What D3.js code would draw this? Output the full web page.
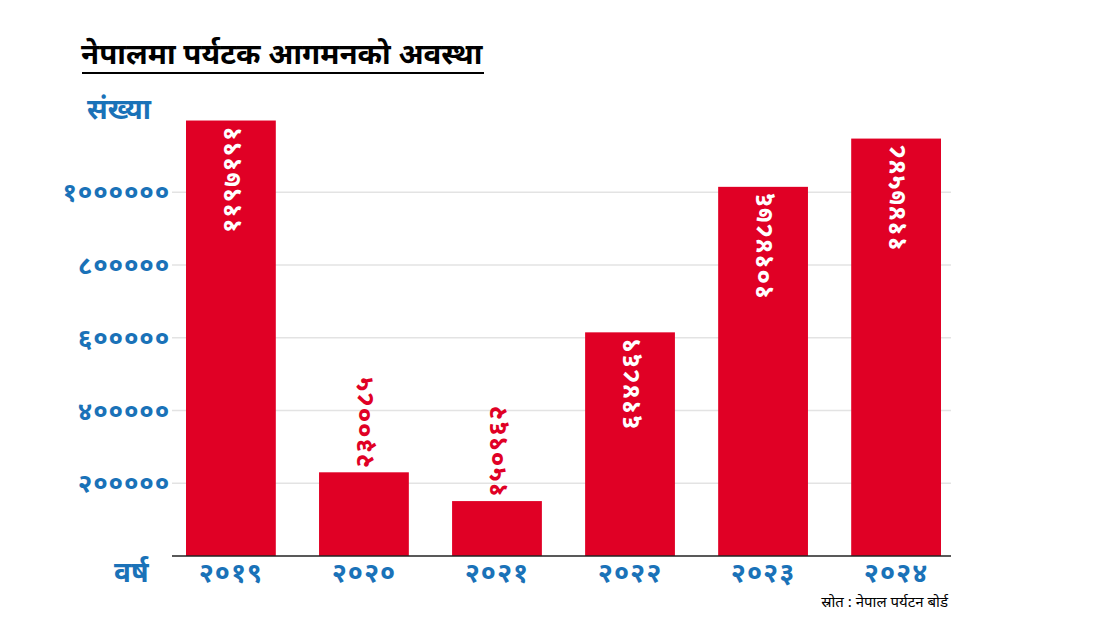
<!DOCTYPE html>
<html>
<head>
<meta charset="utf-8">
<script src="https://cdn.jsdelivr.net/npm/d3@7"></script>
<style>
  body { margin: 0; background: #fff; }
  text { font-family: "Noto Sans", sans-serif; }
</style>
</head>
<body>
<div id="chart"></div>
<script>
// data
var years = ["2019", "2020", "2021", "2022", "2023", "2024"];
var arrivals = [1197191, 230085, 150962, 614869, 1014876, 1147548];
var yTicks = [200000, 400000, 600000, 800000, 1000000];

var title = "नेपालमा पर्यटक आगमनको अवस्था";
var yTitle = "संख्या";
var xTitle = "वर्ष";
var source = "स्रोत : नेपाल पर्यटन बोर्ड";

var width = 1104,
    height = 630;
var blue = "#1a72b8",
    red = "#e00025";

var devDigits = "०१२३४५६७८९";
function toNepali(s) {
  return String(s).replace(/[0-9]/g, function(c) { return devDigits[+c]; });
}

var svg = d3.select("#chart").append("svg")
    .attr("width", width)
    .attr("height", height);

var x = d3.scaleBand()
    .domain(years)
    .range([186, 941])
    .paddingInner(0.325)
    .paddingOuter(0);

var y = d3.scaleLinear()
    .domain([0, 200000])
    .range([556, 483.25]);

// title
svg.append("text")
    .attr("x", 81)
    .attr("y", 64)
    .attr("font-size", 29.5)
    .attr("font-weight", "bold")
    .attr("fill", "#000")
    .text(title);
svg.append("line")
    .attr("x1", 82).attr("x2", 484)
    .attr("y1", 73).attr("y2", 73)
    .attr("stroke", "#000")
    .attr("stroke-width", 2);

// gridlines
svg.append("g").selectAll("line")
    .data(yTicks)
  .enter().append("line")
    .attr("x1", 172).attr("x2", 951)
    .attr("y1", function(d) { return y(d); })
    .attr("y2", function(d) { return y(d); })
    .attr("stroke", "#e3e3e3")
    .attr("stroke-width", 1.5);

// y tick labels
svg.append("g").selectAll("text")
    .data(yTicks)
  .enter().append("text")
    .attr("x", 170)
    .attr("y", function(d) { return y(d); })
    .attr("dy", "0.35em")
    .attr("text-anchor", "end")
    .attr("font-size", 26)
    .attr("letter-spacing", 0.8)
    .attr("font-weight", "bold")
    .attr("fill", blue)
    .text(function(d) { return toNepali(d); });

svg.append("text")
    .attr("x", 87)
    .attr("y", 119)
    .attr("font-size", 28)
    .attr("font-weight", "bold")
    .attr("fill", blue)
    .text(yTitle);

// bars
svg.append("g").selectAll("rect")
    .data(arrivals)
  .enter().append("rect")
    .attr("x", function(d, i) { return x(years[i]); })
    .attr("y", function(d) { return y(d); })
    .attr("width", x.bandwidth())
    .attr("height", function(d) { return y(0) - y(d); })
    .attr("fill", red);

// value labels (inside for tall bars, above for short ones)
svg.append("g").selectAll("text")
    .data(arrivals)
  .enter().append("text")
    .attr("transform", function(d, i) {
      var inside = y(0) - y(d) > 150;
      var ty = inside ? y(d) + 5 : y(d) - 4;
      return "translate(" + (x(years[i]) + x.bandwidth() / 2) + "," + ty + ") rotate(-90)";
    })
    .attr("dy", "0.35em")
    .attr("text-anchor", function(d) { return y(0) - y(d) > 150 ? "end" : "start"; })
    .attr("font-size", 26)
    .attr("letter-spacing", 0.8)
    .attr("font-weight", "bold")
    .attr("fill", function(d) { return y(0) - y(d) > 150 ? "#fff" : red; })
    .text(function(d) { return toNepali(d); });

// baseline
svg.append("line")
    .attr("x1", 172).attr("x2", 951)
    .attr("y1", y(0)).attr("y2", y(0))
    .attr("stroke", "#222")
    .attr("stroke-width", 1.5);

// x labels
svg.append("g").selectAll("text")
    .data(years)
  .enter().append("text")
    .attr("x", function(d) { return x(d) + x.bandwidth() / 2; })
    .attr("y", 582)
    .attr("text-anchor", "middle")
    .attr("font-size", 27)
    .attr("letter-spacing", 1)
    .attr("font-weight", "bold")
    .attr("fill", blue)
    .text(function(d) { return toNepali(d); });

svg.append("text")
    .attr("x", 114)
    .attr("y", 582)
    .attr("font-size", 28)
    .attr("font-weight", "bold")
    .attr("fill", blue)
    .text(xTitle);

// source
svg.append("text")
    .attr("x", 948)
    .attr("y", 607)
    .attr("text-anchor", "end")
    .attr("font-size", 15)
    .attr("fill", "#000")
    .text(source);
</script>
</body>
</html>
